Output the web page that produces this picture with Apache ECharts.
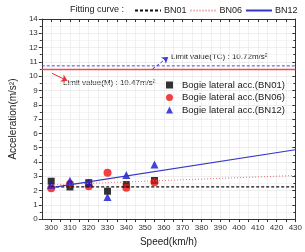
<!DOCTYPE html>
<html>
<head>
<meta charset="utf-8">
<script src="https://cdn.jsdelivr.net/npm/echarts@6/dist/echarts.min.js"></script>
<style>
html,body{margin:0;padding:0;background:#fff;}
#main{width:305px;height:252px;}
</style>
</head>
<body>
<div id="main"></div>
<script>
// speeds (km/h)
var speeds = [300, 310, 320, 330, 340, 355];
// measured bogie lateral acc. (m/s2)
var accBN01 = [2.65, 2.25, 2.55, 1.95, 2.42, 2.7];
var accBN06 = [2.15, 2.45, 2.3, 3.25, 2.2, 2.58];
var accBN12 = [2.4, 2.68, 2.55, 1.55, 3.08, 3.82];
// fitting curves, ends at 300 and 430 km/h
var fitX = [300, 430];
var fitBN01 = [2.25, 2.25];
var fitBN06 = [2.4, 3.05];
var fitBN12 = [2.2, 4.85];
// limit values
var limitX = [295, 430];
var limitM = 10.47;
var limitTC = 10.72;
// annotation arrows [from, to] in data units
var arrowM = [[300.5, 10.2], [308.6, 9.68]];
var arrowTC = [[354, 10.5], [362.3, 11.35]];

function pairs(xs, ys){
    var out = [];
    for(var i=0;i<xs.length;i++){
        out.push([xs[i], ys[i]]);
    }
    return out;
}

var chart = echarts.init(document.getElementById('main'));
var font = 'Liberation Sans, Arial, sans-serif';
var axisCol = '#333';

var option = {
    backgroundColor: '#fff',
    animation: false,
    textStyle: {fontFamily: font},
    grid: {left: 33, right: 9, top: 19, bottom: 29},
    legend: [{
        data: ['BN01', 'BN06', 'BN12'],
        left: 134, top: 6, width: 200, padding: 0,
        itemWidth: 26, itemHeight: 8, itemGap: 3,
        itemStyle: {opacity: 0},
        textStyle: {fontSize: 9, color: '#222', fontFamily: font, padding: [0, 0, 0, -2]}
    },{
        data: ['Bogie lateral acc.(BN01)', 'Bogie lateral acc.(BN06)', 'Bogie lateral acc.(BN12)'],
        orient: 'vertical',
        left: 161, top: 75,
        itemWidth: 7, itemHeight: 7, itemGap: 2.5,
        textStyle: {fontSize: 9.5, color: '#222', fontFamily: font, padding: [0, 0, 0, 4]}
    }],
    graphic: [
        {type: 'text', left: 70, top: 5, style: {text: 'Fitting curve :', fontSize: 9, fill: '#222', fontFamily: font}},
        {type: 'text', left: 171, top: 53, style: {text: 'Limit value(TC) : 10.72m/s²', fontSize: 8, fill: '#222', fontFamily: font}},
        {type: 'text', left: 63, top: 79, style: {text: 'Limit value(M) : 10.47m/s²', fontSize: 8, fill: '#222', fontFamily: font}}
    ],
    xAxis: [{
        type: 'value', min: 295, max: 430, interval: 5,
        name: 'Speed(km/h)', nameLocation: 'middle', nameGap: 17,
        nameTextStyle: {fontSize: 10, color: '#222'},
        axisLine: {onZero: false, lineStyle: {color: axisCol}},
        axisTick: {length: 3, lineStyle: {color: axisCol}},
        axisLabel: {fontSize: 8, color: '#333', margin: 5, showMinLabel: false,
            formatter: function(v){ return v % 10 === 0 ? v : ''; }},
        splitLine: {show: true, lineStyle: {color: '#e6e6e6', width: 0.6}}
    },{
        type: 'value', position: 'top', min: 295, max: 430, interval: 5,
        axisLine: {onZero: false, lineStyle: {color: axisCol}},
        axisTick: {inside: true, length: 3, lineStyle: {color: axisCol}},
        axisLabel: {show: false},
        splitLine: {show: false}
    }],
    yAxis: [{
        type: 'value', min: 0, max: 14, interval: 1,
        name: 'Acceleration(m/s²)', nameLocation: 'middle', nameGap: 18,
        nameTextStyle: {fontSize: 10, color: '#222'},
        axisLine: {show: true, onZero: false, lineStyle: {color: axisCol}},
        axisTick: {show: true, length: 3, lineStyle: {color: axisCol}},
        minorTick: {show: true, splitNumber: 2, length: 2, lineStyle: {color: axisCol}},
        axisLabel: {fontSize: 8, color: '#333', margin: 4},
        splitLine: {show: true, lineStyle: {color: '#e2e2e2', width: 0.6}},
        minorSplitLine: {show: true, lineStyle: {color: '#efefef', width: 0.6}}
    },{
        type: 'value', position: 'right', min: 0, max: 14, interval: 1,
        axisLine: {show: true, onZero: false, lineStyle: {color: axisCol}},
        axisTick: {show: true, inside: true, length: 3, lineStyle: {color: axisCol}},
        minorTick: {show: true, splitNumber: 2, length: 2, lineStyle: {color: axisCol}},
        axisLabel: {show: false},
        splitLine: {show: false}
    }],
    series: [
        {
            name: 'limitM', type: 'line', symbol: 'none', silent: true,
            data: pairs(limitX, [limitM, limitM]),
            lineStyle: {color: '#f04a4a', width: 1.5},
            markLine: {
                silent: true, symbol: ['none', 'arrow'], symbolSize: 6,
                label: {show: false},
                lineStyle: {color: '#e83030', type: 'solid', width: 1},
                data: [[{coord: arrowM[0]}, {coord: arrowM[1]}]]
            }
        },
        {
            name: 'limitTC', type: 'line', symbol: 'none', silent: true,
            data: pairs(limitX, [limitTC, limitTC]),
            lineStyle: {color: '#4a4ad8', width: 1, type: [3, 2]},
            markLine: {
                silent: true, symbol: ['none', 'arrow'], symbolSize: 6,
                label: {show: false},
                lineStyle: {color: '#3a3ad0', type: [3, 2], width: 1},
                data: [[{coord: arrowTC[0]}, {coord: arrowTC[1]}]]
            }
        },
        {
            name: 'BN01', type: 'line', symbol: 'none',
            data: pairs(fitX, fitBN01),
            color: '#111',
            lineStyle: {color: '#111', width: 1.2, type: [3, 2]}
        },
        {
            name: 'BN06', type: 'line', symbol: 'none',
            data: pairs(fitX, fitBN06),
            color: '#f07070',
            lineStyle: {color: '#f07070', width: 1, type: [1, 2]}
        },
        {
            name: 'BN12', type: 'line', symbol: 'none',
            data: pairs(fitX, fitBN12),
            color: '#3535c5',
            lineStyle: {color: '#3535c5', width: 1.2}
        },
        {
            name: 'Bogie lateral acc.(BN01)', type: 'scatter', symbol: 'rect', symbolSize: 7,
            data: pairs(speeds, accBN01),
            itemStyle: {color: '#000'}
        },
        {
            name: 'Bogie lateral acc.(BN06)', type: 'scatter', symbol: 'circle', symbolSize: 8,
            data: pairs(speeds, accBN06),
            itemStyle: {color: '#ee1111'}
        },
        {
            name: 'Bogie lateral acc.(BN12)', type: 'scatter', symbol: 'triangle', symbolSize: 8,
            data: pairs(speeds, accBN12),
            itemStyle: {color: '#1515cc'}
        }
    ]
};
chart.setOption(option);
</script>
</body>
</html>
